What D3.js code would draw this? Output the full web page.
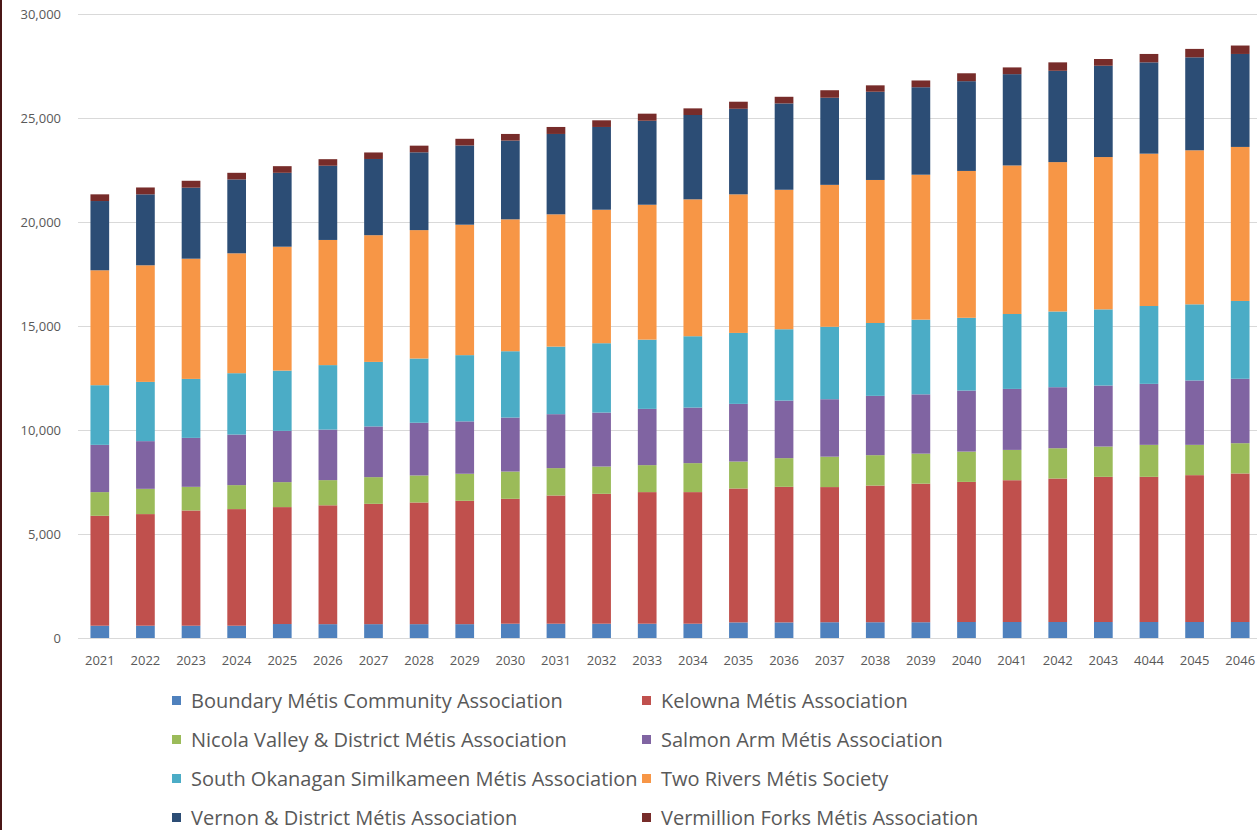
<!DOCTYPE html>
<html>
<head>
<meta charset="utf-8">
<script src="https://cdn.jsdelivr.net/npm/d3@7"></script>
<style>
  body { margin: 0; background: #fff; }
  svg { display: block; }
  text { font-family: "Open Sans", sans-serif; fill: #595959; }
</style>
</head>
<body>
<div id="chart"></div>
<script>
// categories (the chart labels the 2044 bar "4044")
const years = ["2021","2022","2023","2024","2025","2026","2027","2028","2029","2030","2031","2032","2033",
  "2034","2035","2036","2037","2038","2039","2040","2041","2042","2043","4044","2045","2046"];

const seriesNames = [
  "Boundary Métis Community Association",
  "Kelowna Métis Association",
  "Nicola Valley & District Métis Association",
  "Salmon Arm Métis Association",
  "South Okanagan Similkameen Métis Association",
  "Two Rivers Métis Society",
  "Vernon & District Métis Association",
  "Vermillion Forks Métis Association"
];

// series values
const boundary = [590,591,591,591,672,666,666,666,666,687,687,687,687,687,750,750,758,758,758,769,769,769,769,769,769,769];
const kelowna  = [5285,5366,5539,5606,5621,5714,5784,5849,5930,6005,6164,6245,6327,6327,6437,6518,6498,6570,6661,6736,6817,6898,6979,6979,7060,7141];
const nicola   = [1139,1215,1138,1153,1201,1210,1284,1300,1300,1311,1316,1312,1297,1393,1297,1379,1462,1462,1444,1457,1457,1457,1457,1538,1457,1456];
const salmon   = [2272,2292,2354,2431,2465,2430,2437,2534,2518,2595,2594,2594,2705,2671,2772,2767,2762,2852,2851,2933,2933,2933,2933,2933,3095,3096];
const southOk  = [2868,2849,2835,2950,2896,3100,3103,3087,3185,3189,3248,3334,3329,3430,3411,3430,3483,3502,3592,3500,3601,3641,3662,3742,3661,3742];
const twoRivers= [5525,5606,5779,5764,5957,6017,6092,6174,6271,6342,6360,6418,6485,6582,6663,6706,6823,6877,6968,7060,7141,7182,7323,7324,7405,7405];
const vernon   = [3329,3411,3414,3551,3553,3568,3664,3740,3810,3785,3864,3979,4038,4054,4113,4150,4189,4242,4205,4315,4390,4390,4390,4390,4470,4470];
const vermillion=[322,330,332,319,319,315,313,320,320,319,336,320,340,319,340,320,360,307,325,380,324,405,323,404,405,405];

const yTicks = [0, 5000, 10000, 15000, 20000, 25000, 30000];

const colors = ["#4F81BD","#C0504D","#9BBB59","#8064A2","#4BACC6","#F79646","#2C4D75","#772C2A"];

const allSeries = [boundary, kelowna, nicola, salmon, southOk, twoRivers, vernon, vermillion];

// table for d3.stack: one row per year
const rows = years.map((yr, i) => {
  const r = { year: yr };
  allSeries.forEach((s, k) => r[k] = s[i]);
  return r;
});
const keys = d3.range(allSeries.length);
const stacked = d3.stack().keys(keys)(rows);

const W = 1257, H = 830;
const svg = d3.select("#chart").append("svg")
  .attr("width", W)
  .attr("height", H);

const x = d3.scaleBand()
  .domain(years)
  .range([77, 1263])
  .paddingInner(0.59)
  .paddingOuter(0.295);

const y = d3.scaleLinear()
  .domain([0, 30000])
  .range([638, 14]);

// gridlines
svg.append("g")
  .selectAll("line")
  .data(yTicks)
  .join("line")
    .attr("x1", 78)
    .attr("x2", W)
    .attr("y1", d => Math.round(y(d)) + 0.5)
    .attr("y2", d => Math.round(y(d)) + 0.5)
    .attr("stroke", "#d9d9d9")
    .attr("stroke-width", 1);

// y labels
svg.append("g")
  .attr("transform", "translate(61,0)")
  .call(d3.axisLeft(y).tickValues(yTicks).tickSize(0).tickPadding(0).tickFormat(d3.format(",")))
  .call(g => g.select(".domain").remove())
  .selectAll("text")
    .style("font-size", "13px")
    .style("font-family", "'Open Sans', sans-serif")
    .attr("fill", "#595959");

// bars
svg.append("g")
  .selectAll("g")
  .data(stacked)
  .join("g")
    .attr("fill", d => colors[d.key])
  .selectAll("rect")
  .data(d => d)
  .join("rect")
    .attr("x", d => x(d.data.year))
    .attr("y", d => y(d[1]))
    .attr("height", d => y(d[0]) - y(d[1]))
    .attr("width", x.bandwidth());

// x labels
svg.append("g")
  .attr("transform", "translate(0,656)")
  .call(d3.axisBottom(x).tickSize(0).tickPadding(0))
  .call(g => g.select(".domain").remove())
  .selectAll("text")
    .style("font-size", "13px")
    .style("font-family", "'Open Sans', sans-serif")
    .attr("fill", "#595959");

// legend, two columns
const legendCols = [172, 642];
const legendRows = [701, 740, 779, 818];
const legend = svg.append("g")
  .selectAll("g")
  .data(seriesNames)
  .join("g")
    .attr("transform", (d, i) => `translate(${legendCols[i % 2]},${legendRows[Math.floor(i / 2)]})`);

legend.append("rect")
  .attr("x", 0)
  .attr("y", -5)
  .attr("width", 9)
  .attr("height", 9)
  .attr("fill", (d, i) => colors[i]);

legend.append("text")
  .attr("x", 19)
  .attr("y", 0)
  .attr("dy", "0.35em")
  .style("font-size", "20px")
  .text(d => d);

// dark frame edge on the left
svg.append("rect")
  .attr("x", 0)
  .attr("y", 0)
  .attr("width", 2)
  .attr("height", H)
  .attr("fill", "#4a1717");
</script>
</body>
</html>
